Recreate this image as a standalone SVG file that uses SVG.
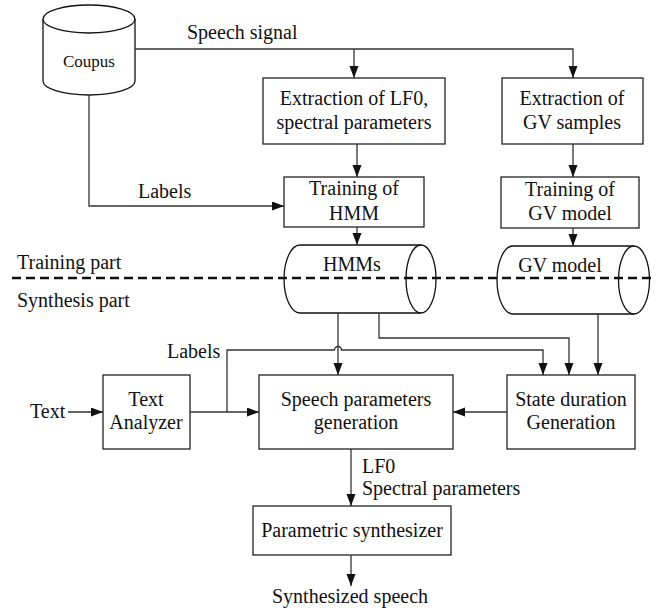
<svg xmlns="http://www.w3.org/2000/svg" width="669" height="612" viewBox="0 0 669 612">
<style>
text{font-family:"Liberation Serif","Times New Roman",serif;font-size:20px;fill:#111}
.c{text-anchor:middle}
.box{fill:#fff;stroke:#222;stroke-width:1.3}
.shape{fill:#fff;stroke:#111;stroke-width:1.3}
.ln{fill:none;stroke:#333;stroke-width:1.3}
.dash{fill:none;stroke:#111;stroke-width:2.6;stroke-dasharray:9 5}
</style>
<defs>
<marker id="ah" markerUnits="userSpaceOnUse" markerWidth="13" markerHeight="10" refX="12" refY="4.5" orient="auto">
<path d="M0,0 L12,4.5 L0,9 z" fill="#111"/>
</marker>
</defs>

<g id="corpus">
<path class="shape" d="M43,19 V81 A46,14 0 0 0 135,81 V19"/>
<ellipse class="shape" cx="89" cy="19" rx="46" ry="14"/>
<text class="c" x="89" y="67" style="font-size:17px">Coupus</text>
</g>

<g id="extract-lf0">
<rect class="box" x="263" y="78" width="182" height="66"/>
<text class="c" x="354" y="105">Extraction of LF0,</text>
<text class="c" x="354" y="129">spectral parameters</text>
</g>

<g id="extract-gv">
<rect class="box" x="502" y="78" width="141" height="66"/>
<text class="c" x="572" y="105">Extraction of</text>
<text class="c" x="572" y="129">GV samples</text>
</g>

<g id="train-hmm">
<rect class="box" x="284" y="177" width="140" height="50"/>
<text class="c" x="354" y="195">Training of</text>
<text class="c" x="354" y="220">HMM</text>
</g>

<g id="train-gv">
<rect class="box" x="501" y="177" width="138" height="51"/>
<text class="c" x="570" y="196">Training of</text>
<text class="c" x="570" y="220">GV model</text>
</g>

<g id="hmms">
<path class="shape" d="M421,245 H300 A16,34 0 0 0 300,313 H421"/>
<ellipse class="shape" cx="421" cy="279" rx="15" ry="34"/>
<text class="c" x="352" y="271">HMMs</text>
</g>

<g id="gv-model">
<path class="shape" d="M634,246 H513 A16,34 0 0 0 513,314 H634"/>
<ellipse class="shape" cx="634" cy="280" rx="15.5" ry="34"/>
<text class="c" x="560" y="272">GV model</text>
</g>

<g id="text-analyzer">
<rect class="box" x="103" y="375" width="87" height="74"/>
<text class="c" x="146" y="406">Text</text>
<text class="c" x="146" y="429">Analyzer</text>
</g>

<g id="speech-params">
<rect class="box" x="259" y="375" width="194" height="74"/>
<text class="c" x="356" y="406">Speech parameters</text>
<text class="c" x="356" y="429">generation</text>
</g>

<g id="state-duration">
<rect class="box" x="507" y="375" width="128" height="74"/>
<text class="c" x="571" y="406">State duration</text>
<text class="c" x="571" y="429">Generation</text>
</g>

<g id="param-synth">
<rect class="box" x="253" y="506" width="198" height="49"/>
<text class="c" x="352" y="537">Parametric synthesizer</text>
</g>

<g id="labels">
<text x="187" y="39">Speech signal</text>
<text x="138" y="198">Labels</text>
<text x="17" y="269">Training part</text>
<text x="17" y="307">Synthesis part</text>
<text x="167" y="358">Labels</text>
<text x="30" y="418">Text</text>
<text x="362" y="473">LF0</text>
<text x="362" y="495">Spectral parameters</text>
<text class="c" x="350" y="603">Synthesized speech</text>
</g>

<g id="connectors">
<path class="ln" d="M135,49 H573 V78" marker-end="url(#ah)"/>
<path class="ln" d="M354,49 V78" marker-end="url(#ah)"/>
<path class="ln" d="M89,95 V206 H284" marker-end="url(#ah)"/>
<path class="ln" d="M357,144 V177" marker-end="url(#ah)"/>
<path class="ln" d="M573,144 V177" marker-end="url(#ah)"/>
<path class="ln" d="M357,227 V245" marker-end="url(#ah)"/>
<path class="ln" d="M573,228 V246" marker-end="url(#ah)"/>
<path class="ln" d="M338,313 V375" marker-end="url(#ah)"/>
<path class="ln" d="M379,313 V338 H569 V375" marker-end="url(#ah)"/>
<path class="ln" d="M598,314 V375" marker-end="url(#ah)"/>
<path class="ln" d="M227,412 V350 H334.5 A3.5,3.5 0 0 1 341.5,350 H543 V375" marker-end="url(#ah)"/>
<path class="ln" d="M507,412 H453" marker-end="url(#ah)"/>
<path class="ln" d="M68,412 H103" marker-end="url(#ah)"/>
<path class="ln" d="M190,412 H259" marker-end="url(#ah)"/>
<path class="ln" d="M351,449 V506" marker-end="url(#ah)"/>
<path class="ln" d="M351,555 V586" marker-end="url(#ah)"/>
</g>

<path id="divider" class="dash" d="M12,278 H652"/>
</svg>
